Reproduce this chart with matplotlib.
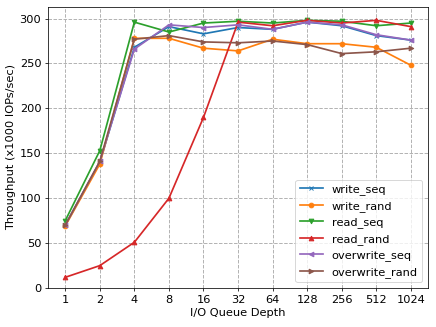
import matplotlib
matplotlib.use("Agg")
import matplotlib.pyplot as plt
import numpy as np

plt.rcParams['font.size'] = 12

depths = ['1', '2', '4', '8', '16', '32', '64', '128', '256', '512', '1024']

write_seq = [70, 140, 268, 291, 283, 290, 288, 296, 292, 281, 276]
write_rand = [69, 138, 278, 278, 267, 264, 277, 272, 272, 268, 248]
read_seq = [75, 153, 296, 285, 295, 297, 295, 298, 297, 292, 295]
read_rand = [12, 25, 51, 100, 190, 296, 292, 298, 295, 298, 291]
overwrite_seq = [70, 141, 266, 293, 290, 293, 288, 296, 293, 282, 276]
overwrite_rand = [70, 141, 277, 281, 274, 273, 275, 271, 261, 263, 267]

series = [
    ('write_seq', write_seq, 'x'),
    ('write_rand', write_rand, 'o'),
    ('read_seq', read_seq, 'v'),
    ('read_rand', read_rand, '^'),
    ('overwrite_seq', overwrite_seq, '<'),
    ('overwrite_rand', overwrite_rand, '>'),
]

fig = plt.figure(figsize=(6.4, 4.8), dpi=436 / 6.4)
ax = fig.add_axes([0.110, 0.119, 0.872, 0.860])

x = np.arange(len(depths))
for name, vals, m in series:
    ax.plot(x, vals, marker=m, markersize=5, linewidth=1.8, label=name)

ax.set_xticks(x)
ax.set_xticklabels(depths)
ax.set_xlim(-0.5, len(depths) - 0.5)
ax.set_ylim(0, 313)
ax.grid(True, linestyle='--', linewidth=1.0, color='#b0b0b0')
ax.set_xlabel('I/O Queue Depth')
ax.set_ylabel('Throughput (x1000 IOPs/sec)')
ax.legend(loc='lower right')

fig.savefig('out.png', dpi=436 / 6.4)
